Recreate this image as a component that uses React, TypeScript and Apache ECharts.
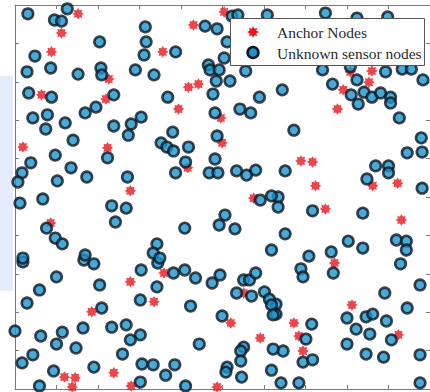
import React, { useEffect, useRef } from "react";
import * as echarts from "echarts";

// Anchor node positions (x, y) in the 0–100 deployment field
const anchorNodes: [number, number][] = [
  [15.2, 97.7], [11.2, 92.7], [8.8, 87.8], [22.6, 80.7], [6.4, 76.6], [21.9, 75.5],
  [50.4, 98.2], [43.0, 94.8], [35.6, 87.8], [41.8, 78.6], [44.2, 79.4], [39.4, 72.9],
  [49.6, 70.6], [80.8, 82.6], [86.0, 82.8], [79.1, 77.9], [85.3, 79.9], [77.7, 72.9],
  [68.9, 59.4], [71.7, 59.1], [72.4, 52.9], [86.2, 52.9], [92.2, 53.6], [74.8, 46.9],
  [93.1, 44.0], [77.0, 32.8], [81.2, 21.9], [67.2, 17.2], [68.4, 13.8], [92.4, 14.1],
  [69.4, 9.9], [35.9, 30.2], [55.1, 25.0], [33.5, 22.7], [52.0, 17.2], [59.1, 13.3],
  [48.7, 0.5], [27.8, 27.9], [18.5, 20.1], [23.8, 4.2], [11.9, 3.1], [14.5, 2.9],
  [13.8, 0.5], [28.0, 0.8], [1.9, 63.0], [22.3, 62.8], [27.8, 51.6], [8.6, 43.2],
  [49.9, 64.1], [41.6, 57.6], [57.5, 49.7],
];

// Unknown sensor node positions (x, y)
const sensorNodes: [number, number][] = [
  [3.1, 97.7], [9.5, 96.1], [11.2, 95.8], [12.6, 99.0], [20.4, 90.4], [4.8, 86.7],
  [2.9, 82.6], [8.6, 83.6], [15.2, 82.0], [20.7, 83.6], [20.9, 81.8], [29.0, 83.1],
  [31.4, 94.3], [31.6, 90.4], [31.1, 87.0], [3.3, 77.1], [8.8, 76.0], [23.8, 76.6],
  [19.5, 73.4], [16.9, 71.9], [4.3, 70.6], [7.8, 71.4], [12.1, 69.3], [23.8, 68.5],
  [28.0, 69.0], [30.4, 70.8], [7.4, 67.7], [38.7, 87.8], [45.8, 94.5], [48.7, 93.8],
  [51.1, 90.4], [50.4, 86.2], [46.6, 84.4], [47.0, 83.1], [49.2, 83.1], [55.6, 82.8],
  [33.5, 81.8], [48.5, 80.2], [51.8, 80.2], [47.7, 76.8], [36.8, 76.0], [58.9, 76.0],
  [64.4, 77.9], [48.2, 71.9], [54.2, 72.9], [56.8, 71.9], [38.0, 66.9], [48.7, 65.9],
  [52.3, 97.1], [53.7, 97.4], [60.8, 97.4], [74.8, 97.9], [82.4, 96.6], [89.8, 96.9],
  [74.1, 83.1], [80.8, 83.9], [82.4, 80.5], [89.3, 82.6], [93.3, 83.3], [95.5, 83.3],
  [98.3, 80.5], [76.5, 79.4], [81.0, 76.6], [84.1, 77.3], [86.0, 76.0], [88.1, 77.1],
  [90.5, 76.0], [90.5, 74.5], [82.7, 74.2], [92.6, 70.6], [67.2, 67.4], [97.9, 65.4],
  [98.1, 61.7], [94.5, 61.5], [65.1, 56.8], [86.9, 58.1], [90.0, 58.1], [90.0, 56.3],
  [84.8, 54.7], [98.1, 52.3], [63.4, 50.0], [63.4, 47.4], [71.7, 46.4], [83.8, 45.8],
  [65.1, 40.4], [80.3, 38.5], [83.8, 36.7], [91.9, 38.8], [94.3, 38.5], [94.3, 36.2],
  [76.2, 35.7], [70.8, 34.6], [68.9, 31.3], [69.4, 29.2], [76.7, 30.2], [92.9, 32.6],
  [97.6, 27.1], [89.1, 25.0], [62.9, 22.1], [62.9, 19.5], [94.5, 21.1], [80.0, 18.5],
  [84.6, 18.8], [86.2, 19.5], [89.5, 17.7], [71.5, 16.9], [82.2, 15.6], [70.1, 13.0],
  [85.5, 14.3], [90.7, 12.8], [80.0, 11.7], [64.6, 9.9], [69.4, 7.0], [71.7, 7.6],
  [84.6, 9.1], [88.8, 8.3], [97.6, 8.9], [64.1, 1.6], [68.4, 1.6], [97.6, 1.6],
  [34.4, 32.8], [38.2, 30.2], [40.9, 31.0], [43.5, 28.9], [47.5, 27.6], [49.4, 29.7],
  [55.1, 28.4], [56.5, 28.4], [58.0, 30.2], [53.4, 25.0], [57.0, 24.2], [60.1, 25.3],
  [61.3, 23.4], [61.8, 21.9], [62.2, 19.3], [34.2, 26.6], [42.3, 21.6], [30.2, 23.2],
  [49.9, 19.0], [30.2, 14.1], [44.4, 11.7], [55.1, 10.9], [54.4, 9.9], [62.2, 10.4],
  [30.6, 6.5], [33.3, 6.3], [38.5, 6.3], [36.3, 3.6], [51.1, 5.7], [50.8, 4.4],
  [54.4, 7.3], [54.6, 3.1], [61.8, 4.9], [30.2, 1.8], [41.1, 0.8], [1.9, 33.1],
  [16.6, 33.6], [19.0, 32.6], [30.4, 31.0], [10.0, 29.2], [20.4, 27.1], [5.9, 25.8],
  [2.9, 22.4], [20.9, 21.1], [0.0, 15.1], [6.2, 13.8], [11.4, 14.8], [16.4, 15.9],
  [23.3, 16.1], [26.8, 16.7], [27.8, 12.8], [10.0, 11.7], [14.7, 10.7], [25.9, 9.1],
  [4.3, 8.9], [1.7, 6.8], [9.3, 4.7], [19.0, 5.7], [5.9, 0.8], [27.3, 66.1],
  [14.0, 64.8], [9.7, 60.9], [3.8, 58.9], [1.7, 56.3], [0.7, 53.9], [13.5, 57.6],
  [10.2, 54.2], [17.3, 55.2], [22.3, 60.2], [27.1, 55.2], [1.2, 48.4], [6.7, 49.5],
  [23.3, 47.7], [26.8, 47.1], [24.2, 43.5], [7.6, 41.9], [9.7, 39.3], [11.4, 37.8],
  [1.9, 34.1], [16.9, 34.9], [35.2, 64.1], [36.6, 63.0], [38.2, 62.0], [41.8, 63.0],
  [41.1, 59.1], [38.7, 56.3], [48.2, 59.9], [46.8, 56.3], [48.9, 56.3], [53.4, 56.8],
  [55.8, 55.7], [58.0, 57.0], [59.1, 49.2], [61.8, 50.3], [40.9, 41.9], [50.6, 45.3],
  [49.2, 42.7], [53.0, 41.7], [34.2, 37.8], [33.3, 35.4], [34.9, 34.1], [61.8, 36.2],
];

const seriesNames = ["Anchor Nodes", "Unknown sensor nodes"];

const anchorColor = "#e8161f";
const sensorFill = "#1b95cc";
const sensorEdge = "#0c1824";
const axisColor = "#7a7a7a";
const serifFont = '"Liberation Serif", "Times New Roman", serif';

// Eight-pointed star outline, unit radius around (cx, cy)
function starPoints(cx: number, cy: number, radius: number, inner: number): number[][] {
  const pts: number[][] = [];
  for (let i = 0; i < 16; i++) {
    const r = (i % 2 === 0 ? 1 : inner) * radius;
    const a = (Math.PI * i) / 8 - Math.PI / 2;
    pts.push([cx + r * Math.cos(a), cy + r * Math.sin(a)]);
  }
  return pts;
}

function starSymbol(inner: number): string {
  const pts = starPoints(1, 1, 1, inner);
  return (
    "path://" +
    pts.map((p, i) => `${i === 0 ? "M" : "L"}${p[0].toFixed(3)} ${p[1].toFixed(3)}`).join(" ") +
    " Z"
  );
}

function frameAxis(position: string) {
  return {
    type: "value",
    min: 0,
    max: 100,
    interval: 10,
    position,
    axisLine: { show: true, onZero: false, lineStyle: { color: axisColor, width: 1 } },
    axisTick: { show: true, inside: true, length: 4, lineStyle: { color: axisColor } },
    axisLabel: { show: false },
    splitLine: { show: false },
  };
}

export default function App() {
  const ref = useRef<HTMLDivElement>(null);

  useEffect(() => {
    if (!ref.current) return;
    const chart = echarts.init(ref.current, undefined, { renderer: "svg" });
    chart.setOption({
      animation: false,
      backgroundColor: "#ffffff",
      grid: { left: 15, top: 5, width: 421, height: 384, containLabel: false },
      graphic: [
        {
          type: "rect",
          left: 0,
          top: 76,
          z: 0,
          shape: { width: 13, height: 215 },
          style: { fill: "#e3ecf8" },
        },
        // legend box drawn above the markers
        {
          type: "group",
          z: 100,
          children: [
            {
              type: "rect",
              z: 100,
              shape: { x: 230.5, y: 18.5, width: 194, height: 47 },
              style: { fill: "#ffffff", stroke: "#555555", lineWidth: 1 },
            },
            {
              type: "polygon",
              z: 101,
              shape: { points: starPoints(253, 32, 5.8, 0.62) },
              style: { fill: anchorColor },
            },
            {
              type: "circle",
              z: 101,
              shape: { cx: 253, cy: 52.5, r: 5.4 },
              style: { fill: sensorFill, stroke: sensorEdge, lineWidth: 2.6 },
            },
            {
              type: "text",
              z: 101,
              x: 277,
              y: 32,
              style: {
                text: seriesNames[0],
                fill: "#2a2a2a",
                font: `15.5px ${serifFont}`,
                verticalAlign: "middle",
              },
            },
            {
              type: "text",
              z: 101,
              x: 277,
              y: 53,
              style: {
                text: seriesNames[1],
                fill: "#2a2a2a",
                font: `15.5px ${serifFont}`,
                verticalAlign: "middle",
              },
            },
          ],
        },
      ],
      xAxis: [frameAxis("bottom"), frameAxis("top")],
      yAxis: [frameAxis("left"), frameAxis("right")],
      series: [
        {
          type: "scatter",
          name: seriesNames[0],
          data: anchorNodes,
          symbol: starSymbol(0.66),
          symbolSize: 11.5,
          symbolKeepAspect: true,
          silent: true,
          z: 2,
          itemStyle: { color: anchorColor },
        },
        {
          type: "scatter",
          name: seriesNames[1],
          data: sensorNodes,
          symbol: "circle",
          symbolSize: 10.6,
          silent: true,
          z: 3,
          itemStyle: { color: sensorFill, borderColor: sensorEdge, borderWidth: 2.6 },
        },
      ],
    });
    return () => chart.dispose();
  }, []);

  return (
    <div
      ref={ref}
      style={{ position: "absolute", left: 0, top: 0, width: 430, height: 392, background: "#fff" }}
    />
  );
}
